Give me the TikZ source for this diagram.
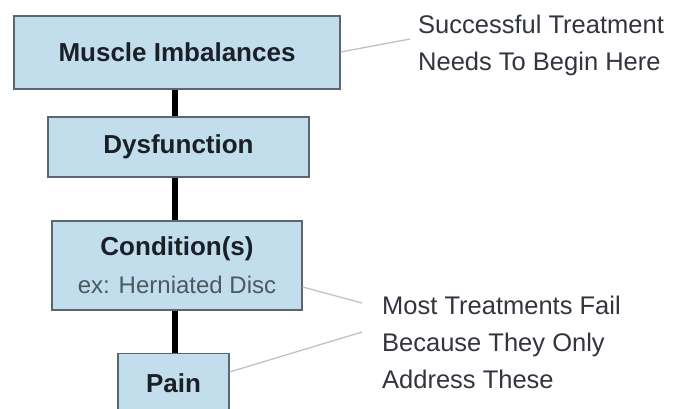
\documentclass[tikz,border=0pt]{standalone}
\usepackage{fontspec}
\setmainfont{Liberation Sans}
\begin{document}
\begin{tikzpicture}[x=1pt,y=-1pt,
  stage/.style={draw=boxline, line width=1.2pt, fill=boxfill, inner sep=0pt,
    font=\fontsize{26}{38}\selectfont\bfseries, text=ink, align=center},
  link/.style={line width=6pt, draw=black},
  leader/.style={draw=leadgray, line width=1.3pt},
  note/.style={font=\fontsize{25.5}{37}\selectfont, text=ink!90, align=left,
    inner sep=0pt, anchor=base west}]
\definecolor{boxfill}{HTML}{C2DEEC}
\definecolor{boxline}{HTML}{5B6670}
\definecolor{ink}{HTML}{1B1F27}
\definecolor{subgray}{HTML}{4C5862}
\definecolor{leadgray}{HTML}{BCC4C8}
\useasboundingbox (0,0) rectangle (686,408);
\clip (0,0) rectangle (686,408);
\fill[white] (0,0) rectangle (686,408);

% chain of stages
\node[stage, minimum width=326, minimum height=73] (imb) at (177,52.5) {Muscle Imbalances};
\node[stage, minimum width=261, minimum height=60] (dys) at (178.5,147) {Dysfunction};
\node[stage, minimum width=250, minimum height=89] (cond) at (177,265.5)
  {Condition(s)\\{\fontsize{24}{38}\selectfont\mdseries\color{subgray}ex: Herniated Disc}};
\node[stage, minimum width=111, minimum height=80, anchor=north] (pain) at (173.5,353) {};
\node[font=\fontsize{26}{30}\selectfont\bfseries, text=ink, anchor=base] (paintxt) at (173.5,392) {Pain};

\draw[link] (imb.south -| 175,0) -- (dys.north -| 175,0);
\draw[link] (dys.south -| 175,0) -- (cond.north -| 175,0);
\draw[link] (cond.south -| 175,0) -- (pain.north -| 175,0);

% side notes (base anchor sits on the last line)
\node[note] (top) at (418,70) {Successful Treatment\\Needs To Begin Here};
\node[note] (bot) at (382,388) {Most Treatments Fail\\Because They Only\\Address These};
\coordinate (topend) at (410,39);
\coordinate (botend1) at (362,303);
\coordinate (botend2) at (362,332);
\draw[leader] (imb.east |- 0,52) -- (topend);
\draw[leader] (cond.east |- 0,287) -- (botend1);
\draw[leader] (pain.east |- 0,372) -- (botend2);
\end{tikzpicture}
\end{document}
